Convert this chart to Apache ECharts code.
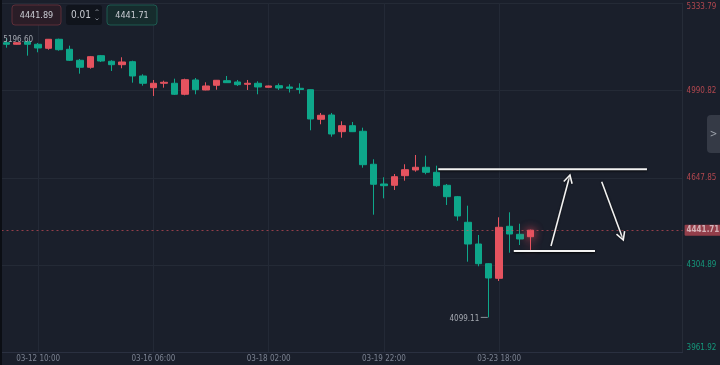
<!DOCTYPE html>
<html>
<head>
<meta charset="utf-8">
<script src="https://cdn.jsdelivr.net/npm/echarts@6/dist/echarts.min.js"></script>
<style>
html,body{margin:0;padding:0;background:#1a1f2b;}
#chart{width:720px;height:365px;}
</style>
</head>
<body>
<div id="chart"></div>
<script>
// ---- data ----
const opens  = [5178.6,5172.4,5182.6,5172.4,5156.6,5192.0,5152.7,5109.5,5082.0,5127.6,
                5105.6,5092.2,5104.0,5047.8,5001.8,5019.1,5019.1,4975.9,5032.1,4992.8,
                5011.2,5029.3,5024.2,5015.2,5019.1,5003.4,5009.7,5004.6,4999.4,4993.9,
                4877.6,4894.5,4828.9,4852.5,4830.5,4700.8,4623.3,4618.2,4656.0,4678.4,
                4689.0,4669.3,4618.2,4573.4,4472.8,4387.5,4310.1,4252.7,4457.1,4425.7,4416.2];
const closes = [5172.4,5178.6,5172.4,5157.8,5192.0,5151.1,5109.5,5082.0,5123.6,5106.7,
                5092.2,5102.8,5047.8,5019.1,5019.1,5023.0,4975.9,5033.2,4993.9,5008.5,
                5030.9,5021.5,5013.6,5019.1,5004.6,5008.5,5000.6,4999.4,4994.7,4878.8,
                4893.3,4819.8,4852.5,4828.9,4699.2,4622.2,4616.7,4652.0,4679.5,4689.0,
                4669.3,4616.7,4573.4,4497.6,4387.5,4310.1,4253.9,4453.2,4426.8,4407.2,4441.71];
const lows   = [5159.0,5171.2,5127.6,5140.9,5151.1,5147.2,5106.7,5056.8,5076.5,5102.8,
                5067.4,5078.0,5021.5,5009.7,4969.2,5001.8,4973.1,4971.9,4975.9,4991.5,
                4993.9,5020.3,5008.5,4992.8,4975.9,5002.0,4992.8,4982.9,4978.2,4834.4,
                4858.0,4809.2,4805.3,4827.5,4687.4,4502.7,4567.1,4599.8,4636.3,4671.7,
                4661.5,4612.7,4540.8,4479.1,4318.0,4300.0,4099.11,4242.1,4353.4,4383.6,4360.0];
const highs  = [5196.60,5181.4,5186.5,5177.5,5193.2,5194.4,5166.9,5114.6,5126.4,5130.3,
                5109.5,5121.3,5107.9,5054.5,5032.1,5029.3,5037.2,5037.2,5039.9,5023.0,
                5032.0,5047.8,5032.1,5032.1,5027.0,5010.0,5018.3,5015.2,5019.1,4995.0,
                4902.4,4902.4,4869.8,4867.0,4844.6,4720.4,4649.7,4662.6,4700.8,4737.3,
                4734.6,4695.3,4623.3,4576.2,4538.1,4422.9,4312.0,4492.5,4512.1,4467.3,4444.0];

const slotCount = 65;                       // visible candle slots (incl. empty right space)
const categories = Array.from({length: slotCount}, (_, i) => String(i));
const xTickIndex  = [3, 14, 25, 36, 47];
const xTickLabels = ['03-12 10:00','03-16 06:00','03-18 02:00','03-19 22:00','03-23 18:00'];
const yTickLabels = ['3961.92','4304.89','4647.85','4990.82','5333.79'];
const yMin = 3961.92, yMax = 5333.79;
const currentPrice = 4441.71;
const bidText = '4441.89', stepText = '0.01', askText = '4441.71';

// drawn annotations (slot index, price)
const levelLines = [[41.18, 61.1, 4681.1], [48.39, 56.14, 4360.0]];
const arrows = [[51.94, 4379.7, 53.75, 4658.7], [56.78, 4632.4, 58.84, 4403.3]];
const extremes = [[0, 5196.60, 1], [46, 4099.11, -1]];

// ---- chart ----
const UP = '#e5535f', DOWN = '#0ea78a';
const FONT = '"DejaVu Sans Condensed", "Liberation Sans Narrow", sans-serif';
const candleData = opens.map((o, i) => {
  const item = {value: [o, closes[i], lows[i], highs[i]]};
  if (i === opens.length - 1) item.itemStyle = {shadowBlur: 10, shadowColor: 'rgba(245,80,95,0.9)'};
  return item;
});

const chart = echarts.init(document.getElementById('chart'), null, {renderer: 'canvas'});
chart.setOption({
  backgroundColor: '#1a1f2b',
  animation: false,
  grid: {left: 1.5, right: 37.4, top: 3.2, bottom: 12.7, outerBoundsMode: 'none'},
  xAxis: [{
    type: 'category', data: categories, boundaryGap: true,
    axisLine: {show: true, lineStyle: {color: '#2a3040'}},
    axisTick: {show: false},
    splitLine: {show: false},
    axisLabel: {
      interval: (idx) => xTickIndex.includes(idx),
      formatter: (v, idx) => { const k = xTickIndex.indexOf(Number(v)); return k >= 0 ? xTickLabels[k] : ''; },
      color: '#7b8291', fontSize: 8, fontFamily: FONT, margin: 3
    }
  }, {
    type: 'value', min: -0.5, max: slotCount - 0.5, show: false
  }],
  yAxis: [{
    type: 'value', min: yMin, max: yMax, show: false, scale: true
  }, {
    type: 'value', min: 0, max: 4, interval: 1, position: 'right',
    axisLine: {show: true, lineStyle: {color: '#262c38'}},
    axisTick: {show: false},
    splitLine: {show: true, lineStyle: {color: '#242a36', width: 1}},
    axisLabel: {
      formatter: (v) => yTickLabels[Math.round(v)],
      color: (v) => Number(v) >= 2 ? '#b1474f' : '#15977b',
      fontSize: 8, fontFamily: FONT, margin: 4,
      showMinLabel: true, showMaxLabel: true,
      verticalAlignMaxLabel: 'top', verticalAlignMinLabel: 'bottom'
    }
  }],
  series: [{
    type: 'candlestick', name: 'k',
    xAxisIndex: 0, yAxisIndex: 0, z: 2,
    barWidth: 7,
    data: candleData,
    itemStyle: {color: UP, color0: DOWN, borderColor: UP, borderColor0: DOWN, borderWidth: 1},
    markLine: {
      silent: true, z: 1, symbol: 'none', animation: false,
      lineStyle: {color: '#232936', type: 'solid', width: 1},
      label: {show: false},
      data: xTickIndex.map(i => ({xAxis: i}))
    }
  }, {
    type: 'line', name: 'price', data: [], xAxisIndex: 0, yAxisIndex: 0, clip: false, z: 3,
    markLine: {
      silent: true, symbol: 'none', animation: false, z: 3,
      lineStyle: {color: UP, type: [2, 3], width: 1, opacity: 0.6},
      label: {show: true, position: 'end', distance: 2, formatter: () => currentPrice.toFixed(2),
        backgroundColor: UP, color: '#ffffff', fontSize: 8, fontWeight: 'bold', fontFamily: FONT,
        padding: [2, 2, 1, 2], borderRadius: 1},
      data: [{yAxis: currentPrice}]
    }
  }, {
    type: 'custom', name: 'levels', xAxisIndex: 1, yAxisIndex: 0, z: 10, clip: false,
    encode: {x: [0, 1], y: 2},
    data: levelLines,
    renderItem: (params, api) => {
      const a = api.coord([api.value(0), api.value(2)]);
      const b = api.coord([api.value(1), api.value(2)]);
      return {type: 'line', shape: {x1: a[0], y1: a[1], x2: b[0], y2: b[1]},
        style: {stroke: '#f2f2f2', lineWidth: 2, shadowBlur: 2, shadowColor: 'rgba(0,0,0,0.9)', shadowOffsetY: 1}};
    }
  }, {
    type: 'custom', name: 'arrows', xAxisIndex: 1, yAxisIndex: 0, z: 10, clip: false,
    encode: {x: [0, 2], y: [1, 3]},
    data: arrows,
    renderItem: (params, api) => {
      const s = api.coord([api.value(0), api.value(1)]);
      const e = api.coord([api.value(2), api.value(3)]);
      const ang = Math.atan2(e[1] - s[1], e[0] - s[0]);
      const L = 9, sp = 0.5;
      const h1 = [e[0] - L * Math.cos(ang - sp), e[1] - L * Math.sin(ang - sp)];
      const h2 = [e[0] - L * Math.cos(ang + sp), e[1] - L * Math.sin(ang + sp)];
      const st = {stroke: '#f2f2f2', lineWidth: 1.6, fill: null, shadowBlur: 2, shadowColor: 'rgba(0,0,0,0.8)'};
      return {type: 'group', children: [
        {type: 'line', shape: {x1: s[0], y1: s[1], x2: e[0], y2: e[1]}, style: st},
        {type: 'polyline', shape: {points: [h1, e, h2]}, style: st}
      ]};
    }
  }, {
    type: 'custom', name: 'extremes', xAxisIndex: 1, yAxisIndex: 0, z: 11, clip: false,
    encode: {x: 0, y: 1},
    data: extremes,
    renderItem: (params, api) => {
      const p = api.coord([api.value(0), api.value(1)]);
      const side = api.value(2);
      const txt = api.value(1).toFixed(2);
      const font = '8px ' + FONT;
      if (side > 0) {
        return {type: 'text', x: p[0] - 3.4, y: p[1] + 1.5,
          style: {text: txt, fill: '#a4a8b0', font: font, align: 'left', verticalAlign: 'middle'}};
      }
      return {type: 'group', children: [
        {type: 'line', shape: {x1: p[0] - 1, y1: p[1], x2: p[0] - 8, y2: p[1]}, style: {stroke: '#8c919a', lineWidth: 1}},
        {type: 'text', x: p[0] - 9.5, y: p[1] + 1.5,
          style: {text: txt, fill: '#a4a8b0', font: font, align: 'right', verticalAlign: 'middle'}}
      ]};
    }
  }],
  graphic: [
    {type: 'rect', shape: {x: 0, y: 0, width: 2, height: 365}, style: {fill: '#0b0e14'}, z: 100},
    {type: 'rect', shape: {x: 12, y: 5, width: 49, height: 20, r: 3}, style: {fill: '#2a1d27', stroke: '#5d2e39', lineWidth: 1}, z: 100},
    {type: 'text', x: 36.5, y: 15.5, style: {text: bidText, fill: '#c9ccd3', font: '9px ' + FONT, align: 'center', verticalAlign: 'middle'}, z: 101},
    {type: 'rect', shape: {x: 66, y: 5, width: 36, height: 20, r: 3}, style: {fill: '#10141c'}, z: 100},
    {type: 'text', x: 71, y: 15.5, style: {text: stepText, fill: '#c9ccd3', font: '10px ' + FONT, align: 'left', verticalAlign: 'middle'}, z: 101},
    {type: 'polyline', shape: {points: [[95.5, 11], [97, 9.5], [98.5, 11]]}, style: {stroke: '#7d828c', lineWidth: 1, fill: null}, z: 101},
    {type: 'polyline', shape: {points: [[95.5, 18.5], [97, 20], [98.5, 18.5]]}, style: {stroke: '#7d828c', lineWidth: 1, fill: null}, z: 101},
    {type: 'rect', shape: {x: 107, y: 5, width: 50, height: 20, r: 3}, style: {fill: '#162c2d', stroke: '#1d5b51', lineWidth: 1}, z: 100},
    {type: 'text', x: 132, y: 15.5, style: {text: askText, fill: '#c9ccd3', font: '9px ' + FONT, align: 'center', verticalAlign: 'middle'}, z: 101},
    {type: 'rect', shape: {x: 707, y: 115, width: 14, height: 38, r: [4, 0, 0, 4]}, style: {fill: '#353a46'}, z: 100},
    {type: 'text', x: 713.5, y: 134, style: {text: '>', fill: '#9da2ab', font: '10px ' + FONT, align: 'center', verticalAlign: 'middle'}, z: 101}
  ]
});
</script>
</body>
</html>
